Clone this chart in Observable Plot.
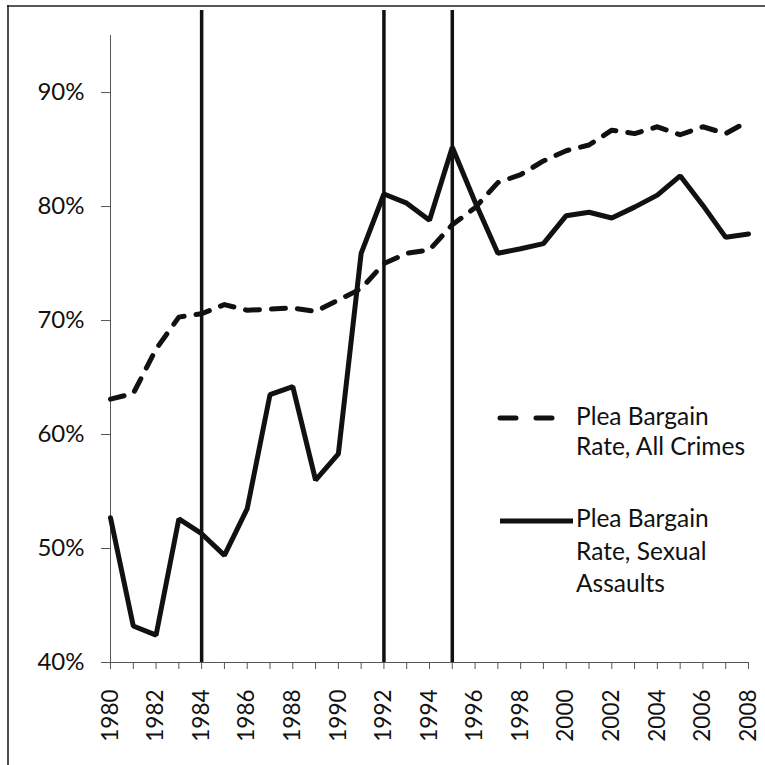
<!DOCTYPE html>
<html>
<head>
<meta charset="utf-8">
<script src="https://cdn.jsdelivr.net/npm/d3@7"></script>
<script src="https://cdn.jsdelivr.net/npm/@observablehq/plot@0.6"></script>
<style>
  body { margin: 0; background: #fff; }
  #wrap { position: relative; width: 765px; height: 765px; overflow: hidden; background: #fff; }
  #overlay { position: absolute; left: 0; top: 0; pointer-events: none; }
  #overlay text { font-family: Lato, "Noto Sans", sans-serif; font-size: 24.5px; fill: #111; }
</style>
</head>
<body>
<div id="wrap"></div>
<script>
// ---- data ----
const years = [1980,1981,1982,1983,1984,1985,1986,1987,1988,1989,1990,1991,1992,1993,1994,
               1995,1996,1997,1998,1999,2000,2001,2002,2003,2004,2005,2006,2007,2008];
const allCrimes = [63.1,63.6,67.5,70.3,70.6,71.4,70.9,71.0,71.1,70.8,71.8,72.8,75.0,75.9,76.2,
                   78.4,79.9,82.1,82.8,84.0,84.9,85.4,86.7,86.4,87.0,86.3,87.0,86.4,87.5];
const sexualAssaults = [52.7,43.2,42.4,52.6,51.3,49.4,53.5,63.5,64.2,56.0,58.3,75.9,81.1,80.3,78.8,
                        85.2,80.4,75.9,76.3,76.75,79.2,79.5,79.0,79.95,81.0,82.7,80.1,77.3,77.6];
const markerYears = [1984, 1992, 1995];
const yTicks = [40, 50, 60, 70, 80, 90];
const xLabelYears = [1980,1982,1984,1986,1988,1990,1992,1994,1996,1998,2000,2002,2004,2006,2008];
const legendAll = ["Plea Bargain", "Rate, All Crimes"];
const legendSex = ["Plea Bargain", "Rate, Sexual", "Assaults"];

const rows = years.map((yr, i) => ({year: yr, all: allCrimes[i], sex: sexualAssaults[i]}));
const yMin = 40, yAxisTop = 95, yTop = 97.2;

const chart = Plot.plot({
  width: 765,
  height: 765,
  marginLeft: 110,
  marginRight: 17,
  marginTop: 10,
  marginBottom: 103,
  x: {domain: [1980, 2008]},
  y: {domain: [yMin, yTop]},
  style: {fontFamily: "Lato, 'Noto Sans', sans-serif", color: "#111", background: "white"},
  marks: [
    Plot.ruleX([1980], {y1: yMin, y2: yAxisTop, stroke: "#555", strokeWidth: 1}),
    Plot.ruleY([yMin], {x1: 1980, x2: 2008, stroke: "#555", strokeWidth: 1}),
    Plot.axisY({ticks: yTicks, tickFormat: d => d + "%", tickSize: 9, tickPadding: 17,
                fontSize: 24, stroke: "#555", fill: "#111", label: null}),
    Plot.axisX({ticks: years, tickFormat: d => xLabelYears.includes(d) ? String(d) : "",
                tickSize: 7, tickPadding: 20, tickRotate: -90, fontSize: 22.5,
                stroke: "#555", fill: "#111", label: null}),
    Plot.line(rows, {x: "year", y: "all", stroke: "#111", strokeWidth: 5,
                     strokeDasharray: "14 12", strokeLinecap: "round"}),
    Plot.ruleX(markerYears, {y1: yMin, y2: yTop, stroke: "#111", strokeWidth: 3.5}),
    Plot.line(rows, {x: "year", y: "sex", stroke: "#111", strokeWidth: 5, strokeLinejoin: "miter"})
  ]
});

const wrap = document.getElementById("wrap");
wrap.appendChild(chart);

// overlay: page frame + legend
const ns = "http://www.w3.org/2000/svg";
const ov = document.createElementNS(ns, "svg");
ov.setAttribute("id", "overlay");
ov.setAttribute("width", 765);
ov.setAttribute("height", 765);
function el(tag, attrs, text) {
  const e = document.createElementNS(ns, tag);
  for (const k in attrs) e.setAttribute(k, attrs[k]);
  if (text != null) e.textContent = text;
  ov.appendChild(e);
  return e;
}
// frame (left and top borders of the scanned figure)
el("line", {x1: 8, y1: 5, x2: 8, y2: 765, stroke: "#222", "stroke-width": 1.6});
el("line", {x1: 7, y1: 6, x2: 765, y2: 6, stroke: "#222", "stroke-width": 1.6});
// legend: all crimes (dashed)
el("line", {x1: 500, y1: 418, x2: 552, y2: 418, stroke: "#111", "stroke-width": 5,
            "stroke-dasharray": "16 20", "stroke-linecap": "round"});
[425, 455].forEach((by, i) => el("text", {x: 576, y: by}, legendAll[i]));
// legend: sexual assaults (solid)
el("line", {x1: 500, y1: 521, x2: 573, y2: 521, stroke: "#111", "stroke-width": 5});
[527, 560, 592].forEach((by, i) => el("text", {x: 576, y: by}, legendSex[i]));
wrap.appendChild(ov);
</script>
</body>
</html>
